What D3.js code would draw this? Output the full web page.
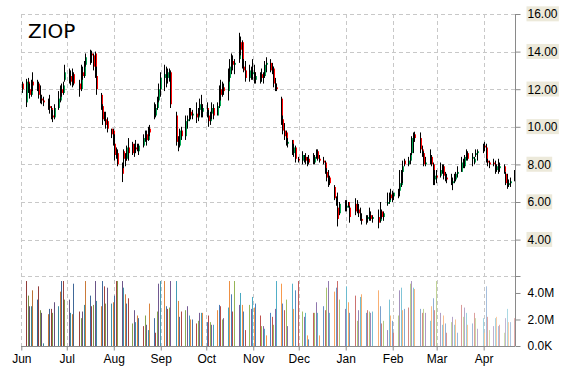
<!DOCTYPE html>
<html>
<head>
<meta charset="utf-8">
<script src="https://cdn.jsdelivr.net/npm/d3@7"></script>
<style>
  body { margin: 0; background: #fff; }
  svg { font-family: "DejaVu Sans", sans-serif; }
  .grid line { stroke: #c8c8c8; stroke-dasharray: 4,3; }
  .axis path, .axis line { stroke: #8a8a8a; }
  .axis text { font-size: 12px; fill: #000; }
</style>
</head>
<body>
<svg width="570" height="370"></svg>
<script>
  const svg = d3.select('svg');

  const symbol = 'ZIOP';

  // trading days per month (year, month index, days)
  const months = [[2015, 4], [2015, 5], [2015, 6], [2015, 7], [2015, 8], [2015, 9],
                  [2015, 10], [2015, 11], [2016, 0], [2016, 1], [2016, 2], [2016, 3]];
  const tradingDays = [
    [29],
    [1,2,3,4,5,8,9,10,11,12,15,16,17,18,19,22,23,24,25,26,29,30],
    [1,2,6,7,8,9,10,13,14,15,16,17,20,21,22,23,24,27,28,29,30,31],
    [3,4,5,6,7,10,11,12,13,14,17,18,19,20,21,24,25,26,27,28,31],
    [1,2,3,4,8,9,10,11,14,15,16,17,18,21,22,23,24,25,28,29,30],
    [1,2,5,6,7,8,9,12,13,14,15,16,19,20,21,22,23,26,27,28,29,30],
    [2,3,4,5,6,9,10,11,12,13,16,17,18,19,20,23,24,25,27,30],
    [1,2,3,4,7,8,9,10,11,14,15,16,17,18,21,22,23,24,28,29,30,31],
    [4,5,6,7,8,11,12,13,14,15,19,20,21,22,25,26,27,28,29],
    [1,2,3,4,5,8,9,10,11,12,16,17,18,19,22,23,24,25,26,29],
    [1,2,3,4,7,8,9,10,11,14,15,16,17,18,21,22,23,24,28,29,30,31],
    [1,4,5,6,7,8,11,12,13,14,15,18]
  ];

  const opens = [
    12.3,
    11.3,12.4,12.0,11.7,12.4,12.2,12.3,11.7,11.5,11.4,11.3,11.1,11.0,10.6,10.5,11.0,11.4,12.0,11.8,12.5,12.9,12.7,
    12.4,12.8,12.3,12.0,12.9,12.7,13.3,13.7,13.9,13.8,13.9,12.7,11.7,11.1,10.6,10.4,10.3,9.9,9.8,9.1,8.5,8.6,
    8.0,8.7,8.3,8.3,8.9,9.1,8.6,8.9,9.0,8.7,9.0,9.4,9.6,9.3,9.9,10.6,10.6,11.0,11.4,12.0,12.6,
    12.8,12.6,12.9,12.9,10.6,9.2,9.0,9.8,9.5,10.3,10.4,10.8,10.6,10.7,10.5,10.9,11.2,10.8,11.0,10.6,10.3,
    10.7,11.0,10.6,11.1,12.0,11.7,12.1,11.9,12.6,13.2,13.5,13.3,13.6,14.5,14.5,13.2,13.0,12.6,13.0,12.8,12.9,12.5,
    12.4,12.8,12.6,12.7,13.3,13.4,13.0,13.1,12.3,12.1,11.5,10.4,9.8,9.7,9.1,9.3,8.6,8.9,8.3,8.2,
    8.2,8.4,8.2,8.3,8.5,8.1,8.4,8.7,8.3,8.2,8.1,7.6,7.3,7.3,6.8,6.2,5.7,5.4,5.9,5.7,6.0,5.7,
    5.9,5.5,5.6,5.3,5.1,5.0,5.1,5.2,5.3,5.1,5.2,5.0,5.5,5.2,5.9,6.0,6.4,6.2,6.3,
    6.4,6.6,6.9,7.6,8.2,8.0,8.2,8.6,9.4,9.6,9.4,8.8,8.6,8.0,8.1,8.4,8.0,7.2,7.4,7.4,
    7.7,7.9,7.4,7.3,7.2,7.0,7.1,7.2,7.5,7.6,8.1,7.9,8.3,8.6,8.3,8.1,8.5,8.6,8.7,9.0,8.9,8.2,
    8.1,8.1,8.0,7.7,7.9,7.8,7.9,7.5,7.0,6.9,7.0,7.2
  ];
  const highs = [
    12.4,
    12.55,12.6,12.3,12.5,12.9,12.5,12.4,12.2,11.7,11.6,11.5,11.7,11.1,10.9,11.2,11.9,12.2,12.3,12.4,13.3,13.1,13.0,
    13.1,12.9,12.5,13.3,13.2,13.5,13.9,14.1,14.05,13.9,14.0,13.2,11.8,11.2,10.8,10.8,10.5,9.9,9.9,9.6,8.9,8.8,
    8.1,8.8,8.6,9.0,9.4,9.2,9.1,9.3,9.1,9.1,9.6,9.8,9.8,10.0,10.1,11.3,11.2,11.6,12.3,12.9,13.3,
    13.2,13.1,13.1,13.0,10.8,9.5,9.9,10.0,10.6,10.6,11.0,11.0,10.9,11.3,11.0,11.5,11.7,11.2,11.3,10.9,10.8,
    11.3,11.2,11.3,12.2,12.5,12.4,12.3,13.1,13.6,13.9,13.8,13.6,15.0,14.8,14.6,13.6,13.5,13.3,13.2,13.6,13.3,12.9,
    12.9,13.1,12.9,13.5,13.7,13.6,13.4,13.2,12.6,12.3,11.6,10.6,10.2,9.8,9.4,9.3,9.1,9.0,8.4,8.7,
    8.5,8.6,8.4,8.5,8.6,8.5,8.8,8.8,8.5,8.4,8.2,7.8,7.7,7.4,6.9,6.3,6.5,6.0,6.1,6.1,6.0,5.8,
    6.2,6.1,5.9,5.7,5.4,5.3,5.3,5.7,5.5,5.3,5.6,6.0,5.6,5.5,6.5,6.5,6.7,6.6,6.5,
    6.7,7.7,7.7,8.2,8.3,8.4,8.6,9.5,9.7,9.74,9.7,9.0,8.7,8.4,8.8,8.5,8.1,7.7,7.7,8.1,
    8.0,8.0,7.6,7.5,7.5,7.3,7.5,7.6,7.9,8.4,8.3,8.5,8.8,8.7,8.6,8.4,8.8,8.8,9.1,9.2,9.1,8.3,
    8.2,8.3,8.2,8.0,8.3,8.1,8.0,7.6,7.5,7.2,7.3,7.7
  ];
  const lows = [
    11.8,
    11.05,11.8,11.5,11.6,11.9,11.9,11.5,11.25,11.2,11.1,10.9,10.7,10.4,10.25,10.4,10.9,11.3,11.6,11.7,12.4,12.3,12.2,
    12.1,12.2,11.6,11.9,12.5,12.6,13.2,13.3,13.4,13.0,12.6,11.7,10.9,10.1,10.3,9.9,9.7,9.4,9.0,8.2,8.3,7.9,
    7.06,7.8,7.9,8.2,8.2,8.5,8.4,8.6,8.7,8.5,8.9,9.2,9.0,9.25,9.5,10.4,10.5,10.9,11.3,11.6,11.9,
    12.1,12.3,12.4,11.0,9.0,8.7,8.9,9.3,9.3,9.9,10.3,10.4,10.4,10.2,10.3,10.6,10.5,10.5,10.5,10.0,10.1,
    10.4,10.4,10.6,11.0,11.4,11.6,11.7,11.4,12.4,12.8,13.0,12.8,13.4,13.8,13.1,12.9,12.4,12.4,12.5,12.5,12.3,12.3,
    12.3,12.4,12.3,12.6,12.9,12.9,12.8,12.1,11.9,11.9,10.1,9.6,9.3,9.0,8.9,8.5,8.4,8.1,8.1,8.0,
    8.1,8.0,7.9,8.0,8.0,8.0,8.3,8.2,8.1,8.0,7.5,7.1,6.8,6.9,6.1,5.8,4.7,5.3,5.5,5.5,5.7,4.9,
    5.3,5.4,5.2,5.0,4.8,4.8,4.9,5.0,5.0,4.9,4.6,4.9,5.1,5.0,5.8,5.9,6.1,6.0,6.1,
    6.2,6.3,6.8,7.0,7.9,7.9,8.0,8.5,8.6,9.2,8.6,8.4,7.9,7.9,8.0,7.9,6.9,6.9,7.0,7.3,
    7.5,7.2,7.1,7.0,6.9,6.63,7.0,7.1,7.3,7.6,7.8,7.8,8.2,8.2,7.9,8.0,8.4,8.2,8.6,8.7,8.1,7.9,
    7.8,7.9,7.5,7.6,7.5,7.6,7.5,6.9,6.7,6.8,6.8,7.1
  ];
  const closes = [
    12.0,
    12.4,12.0,11.7,12.4,12.2,12.3,11.7,11.5,11.4,11.3,11.1,11.0,10.6,10.5,11.0,11.5,12.0,11.8,12.2,12.9,12.5,12.4,
    12.8,12.3,12.0,12.9,12.7,13.3,13.7,13.9,13.8,13.2,12.7,12.0,11.1,10.4,10.4,10.1,9.9,9.6,9.1,8.5,8.6,8.0,
    7.5,8.3,8.2,8.9,8.6,8.6,8.9,8.8,8.8,9.0,9.4,9.6,9.3,9.9,9.7,10.8,11.0,11.4,12.0,12.6,12.8,
    12.6,12.9,12.7,11.2,9.2,9.0,9.8,9.5,10.3,10.4,10.8,10.6,10.7,10.5,10.9,11.2,10.8,11.0,10.6,10.3,10.7,
    11.0,10.6,11.1,12.0,11.7,12.1,11.9,12.6,13.2,13.5,13.3,13.4,14.5,14.1,13.2,13.0,12.6,13.0,12.8,12.9,12.5,12.7,
    12.8,12.6,12.7,13.3,13.4,13.0,13.2,12.3,12.1,12.0,10.4,9.8,9.5,9.1,9.2,8.6,8.9,8.3,8.2,8.5,
    8.4,8.2,8.3,8.1,8.1,8.4,8.6,8.3,8.2,8.1,7.6,7.3,7.0,7.0,6.2,6.0,5.1,5.9,5.7,5.8,5.7,5.2,
    5.5,5.8,5.4,5.1,5.0,5.2,5.2,5.3,5.1,5.2,4.9,5.5,5.2,5.4,6.0,6.4,6.2,6.3,6.5,
    6.6,7.0,7.6,7.9,8.0,8.2,8.5,9.4,9.2,9.4,8.8,8.6,8.0,8.1,8.4,8.0,7.2,7.4,7.3,7.7,
    7.9,7.4,7.3,7.2,7.0,7.1,7.4,7.5,7.6,8.1,7.9,8.4,8.6,8.3,8.4,8.3,8.6,8.7,9.0,8.9,8.2,8.1,
    8.0,8.0,7.7,7.9,7.8,7.9,7.6,7.0,6.9,7.0,7.1,7.6
  ];
  // volume in millions of shares
  const volumes = [
    0,
    4.9,3.8,3.0,3.0,4.2,3.5,4.5,2.7,2.5,0.2,2.4,2.8,2.8,2.5,3.3,3.0,4.1,4.9,4.9,3.5,3.5,2.5,
    2.4,4.7,2.6,2.1,2.6,3.1,4.9,3.8,3.0,3.1,4.9,3.4,3.0,4.9,4.5,3.2,4.4,3.2,3.3,3.8,4.9,4.9,
    4.9,4.4,3.9,3.2,3.6,1.7,2.7,1.8,2.3,2.1,1.5,2.3,1.6,1.2,3.2,2.1,1.0,2.6,4.7,4.9,4.9,
    3.0,2.8,2.9,4.9,4.9,3.4,2.2,2.6,2.7,3.0,2.3,2.0,2.0,1.7,1.9,2.5,2.5,2.5,1.8,2.3,1.8,
    1.6,1.6,2.7,3.1,3.0,2.0,2.1,2.9,4.9,3.9,2.6,4.9,3.1,4.0,3.1,2.6,1.2,3.1,2.8,3.7,2.9,3.2,
    2.3,1.5,1.5,1.3,0.8,2.5,2.2,1.6,2.8,4.9,4.7,3.2,2.7,3.5,1.5,4.7,2.8,4.2,4.9,2.6,
    2.2,2.5,0.8,0.5,2.5,2.5,3.3,2.5,0.8,3.0,2.7,4.4,4.9,2.5,4.1,4.4,4.9,3.5,2.8,4.5,3.3,2.5,
    3.8,1.9,2.7,3.7,3.9,2.5,2.7,2.6,2.5,2.6,4.2,3.0,1.7,1.9,1.2,3.5,2.3,1.9,1.0,
    2.3,4.2,4.4,2.7,2.8,2.9,4.7,4.9,4.4,4.3,2.8,2.5,2.8,2.5,1.9,3.0,3.6,2.7,4.9,2.5,
    1.6,2.3,1.7,1.0,1.8,2.2,1.6,2.0,1.0,3.1,2.2,2.9,2.5,1.6,1.7,2.5,2.1,1.3,2.1,1.0,4.5,2.2,
    1.2,1.5,2.1,2.2,1.5,1.6,1.0,2.1,2.8,1.8,1.8,2.1
  ];

  const priceTicks = [4, 6, 8, 10, 12, 14, 16];
  const volumeTicks = [0, 2, 4];
  const volumePalette = ['#4f81bd', '#c0504d', '#9bbb59', '#8064a2', '#4bacc6', '#f79646'];

  const dates = [];
  months.forEach((m, i) => tradingDays[i].forEach(d => dates.push(new Date(m[0], m[1], d))));
  const n = Math.min(dates.length, opens.length, highs.length, lows.length, closes.length, volumes.length);
  const data = d3.range(n).map(i => ({
    date: dates[i], open: opens[i], high: highs[i], low: lows[i], close: closes[i], volume: volumes[i]
  }));

  const left = 21, right = 515;
  const x = d3.scaleTime()
    .domain([new Date(2015, 5, 1), new Date(2016, 3, 22)])
    .range([left + 0.3, right + 0.5]);
  const barShift = 5; // bars sit a little right of the month ticks in the original
  const xPos = d => Math.round(x(d) + barShift) + 0.5;

  const y = d3.scaleLinear().domain([4, 16]).range([239.6, 14]);
  const yVol = d3.scaleLinear().domain([0, 5.28]).range([346, 276]);

  // grid
  const grid = svg.append('g').attr('class', 'grid');
  grid.selectAll('.h').data(priceTicks).enter().append('line')
    .attr('x1', left).attr('x2', right)
    .attr('y1', d => Math.round(y(d)) + 0.5).attr('y2', d => Math.round(y(d)) + 0.5);
  grid.append('line')
    .attr('x1', left).attr('x2', right)
    .attr('y1', yVol.range()[1] + 0.5).attr('y2', yVol.range()[1] + 0.5);
  const monthTicks = x.ticks(d3.timeMonth.every(1));
  grid.selectAll('.v').data(monthTicks).enter().append('line')
    .attr('x1', d => Math.round(x(d)) + 0.5).attr('x2', d => Math.round(x(d)) + 0.5)
    .attr('y1', 14).attr('y2', 346);

  // volume bars
  const volColor = (c, t) => d3.piecewise(d3.interpolateRgb,
    [d3.rgb(c).darker(0.8), c, d3.interpolateRgb(c, '#fff')(0.55)])(t);
  svg.append('g').selectAll('rect').data(data).enter().append('rect')
    .attr('x', d => xPos(d.date) - 0.5)
    .attr('width', 1)
    .attr('y', d => yVol(d.volume))
    .attr('height', d => yVol(0) - yVol(d.volume))
    .attr('fill', (d, i) => volColor(volumePalette[i % volumePalette.length], i / (n - 1)));

  // candles: thin black wick with the body just beside it
  const candles = svg.append('g').selectAll('g').data(data).enter().append('g');
  candles.append('rect')
    .attr('x', d => xPos(d.date) + 0.5)
    .attr('width', 1)
    .attr('y', d => y(Math.max(d.open, d.close)))
    .attr('height', d => Math.max(1, Math.abs(y(d.open) - y(d.close))))
    .attr('fill', d => d.close >= d.open ? '#00a651' : '#ff0000');
  candles.append('line')
    .attr('x1', d => xPos(d.date)).attr('x2', d => xPos(d.date))
    .attr('y1', d => y(d.high)).attr('y2', d => y(d.low))
    .attr('stroke', '#000')
    .attr('stroke-width', 1);

  // right axes
  const axisG = svg.append('g').attr('class', 'axis')
    .attr('transform', `translate(${right + 0.5},0)`);
  axisG.append('line').attr('y1', 14).attr('y2', 346);

  const priceAxis = axisG.append('g')
    .call(d3.axisRight(y).tickValues(priceTicks).tickFormat(d3.format('.2f'))
      .tickSize(5).tickPadding(7));
  priceAxis.select('.domain').remove();
  priceAxis.selectAll('.tick').each(function () {
    const t = d3.select(this).select('text');
    const b = t.node().getBBox();
    d3.select(this).insert('rect', 'text')
      .attr('x', b.x - 1).attr('y', b.y - 1)
      .attr('width', b.width + 2).attr('height', b.height + 1)
      .attr('fill', '#ece9da');
  });

  const volAxis = axisG.append('g')
    .call(d3.axisRight(yVol).tickValues(volumeTicks)
      .tickFormat(d => d === 0 ? '0.0K' : d.toFixed(1) + 'M')
      .tickSize(5).tickPadding(7));
  volAxis.select('.domain').remove();
  axisG.append('line').attr('x1', 0).attr('x2', 5)
    .attr('y1', yVol.range()[1] + 0.5).attr('y2', yVol.range()[1] + 0.5);

  // bottom axis
  const xAxis = svg.append('g').attr('class', 'axis')
    .attr('transform', 'translate(0,346.5)')
    .call(d3.axisBottom(x).tickValues(monthTicks).tickFormat(d3.timeFormat('%b'))
      .tickSize(4).tickPadding(4).tickSizeOuter(0));
  xAxis.select('.domain').attr('d', `M${left},0H${right}`);

  // title
  svg.append('text')
    .attr('x', 28).attr('y', 38)
    .attr('font-size', 20)
    .attr('fill', '#000')
    .text(symbol);
</script>
</body>
</html>
